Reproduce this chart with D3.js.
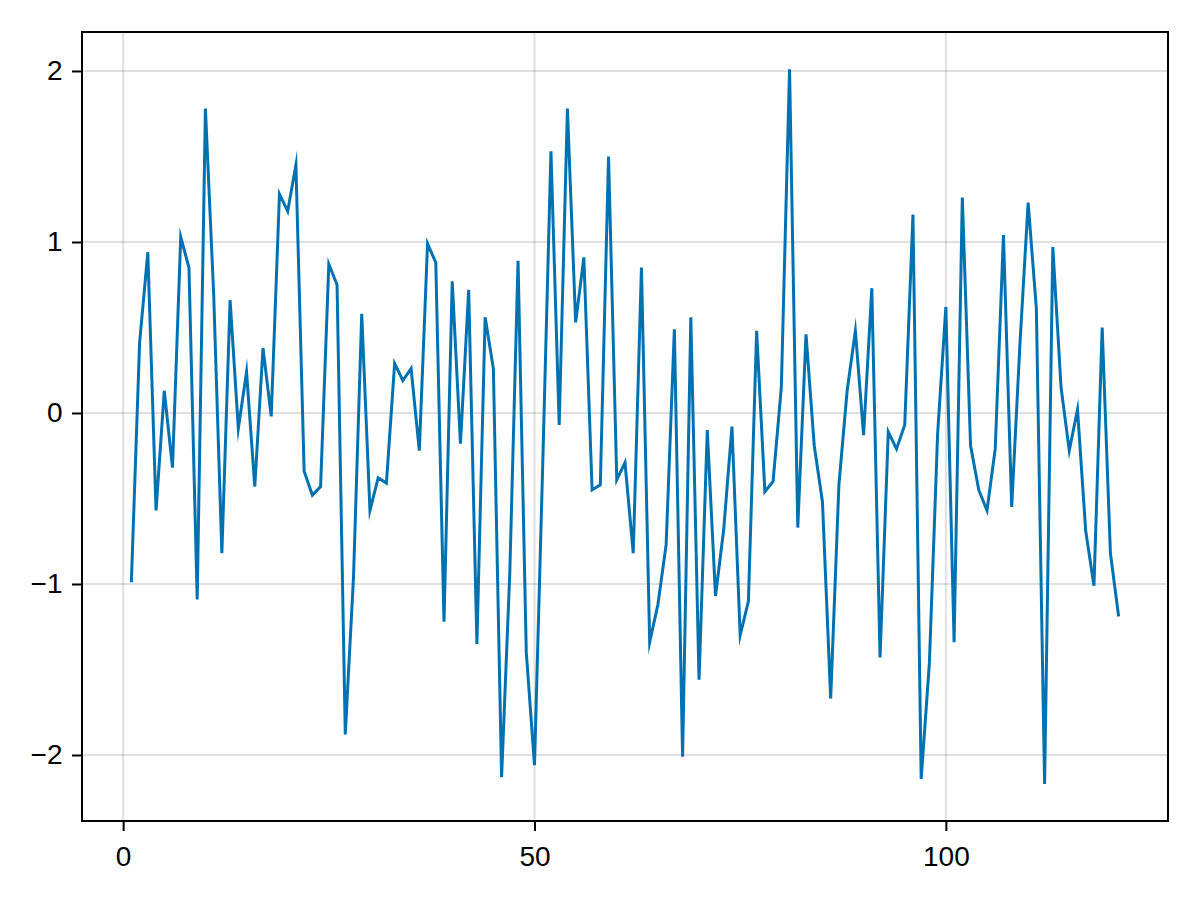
<!DOCTYPE html>
<html>
<head>
<meta charset="utf-8">
<script src="https://cdn.jsdelivr.net/npm/d3@7"></script>
<style>
  html, body { margin: 0; padding: 0; background: #ffffff; }
  svg { display: block; }
  text { font-family: "Liberation Sans", Arial, Helvetica, sans-serif; }
</style>
</head>
<body>
<svg id="chart" width="1200" height="900"></svg>
<script>
// ---- data ----
const xValues = d3.range(1, 122);
const yValues = [
  -0.99, 0.41, 0.94, -0.57, 0.13, -0.32, 1.03, 0.85, -1.09, 1.78,
  0.70, -0.82, 0.66, -0.09, 0.24, -0.43, 0.38, -0.02, 1.28, 1.18,
  1.45, -0.34, -0.48, -0.43, 0.87, 0.75, -1.88, -0.96, 0.58, -0.57,
  -0.38, -0.41, 0.29, 0.19, 0.26, -0.22, 0.99, 0.88, -1.22, 0.77,
  -0.18, 0.72, -1.35, 0.56, 0.26, -2.13, -0.93, 0.89, -1.40, -2.06,
  -0.30, 1.53, -0.07, 1.78, 0.53, 0.91, -0.45, -0.42, 1.50, -0.39,
  -0.29, -0.82, 0.85, -1.34, -1.12, -0.77, 0.49, -2.01, 0.56, -1.56,
  -0.10, -1.07, -0.68, -0.08, -1.30, -1.10, 0.48, -0.46, -0.40, 0.15,
  2.01, -0.67, 0.46, -0.19, -0.52, -1.67, -0.42, 0.13, 0.48, -0.13,
  0.73, -1.43, -0.11, -0.21, -0.07, 1.16, -2.14, -1.46, -0.12, 0.62,
  -1.34, 1.26, -0.19, -0.45, -0.57, -0.21, 1.04, -0.55, 0.40, 1.23,
  0.61, -2.17, 0.97, 0.15, -0.22, 0.02, -0.69, -1.01, 0.50, -0.82,
  -1.19
];
const xTicks = [0, 50, 100];
const yTicks = [-2, -1, 0, 1, 2];

// ---- layout ----
const svg = d3.select("#chart");
const mLeft = 82, mRight = 1168, mTop = 32, mBottom = 821;

const x = d3.scaleLinear().domain([-5, 127]).range([mLeft, mRight]);
const y = d3.scaleLinear().domain([-2.386, 2.228]).range([mBottom, mTop]);

const fmt = d => (d < 0 ? "\u2212" + Math.abs(d) : String(d));

// grid lines
const grid = svg.append("g");
grid.selectAll("line.gx").data(xTicks).enter().append("line")
  .attr("class", "gx")
  .attr("x1", d => x(d)).attr("x2", d => x(d))
  .attr("y1", mTop).attr("y2", mBottom)
  .attr("stroke", "rgba(0,0,0,0.12)").attr("stroke-width", 2);
grid.selectAll("line.gy").data(yTicks).enter().append("line")
  .attr("class", "gy")
  .attr("x1", mLeft).attr("x2", mRight)
  .attr("y1", d => y(d)).attr("y2", d => y(d))
  .attr("stroke", "rgba(0,0,0,0.12)").attr("stroke-width", 2);

// line series
const line = d3.line().x((d, i) => x(xValues[i])).y(d => y(d));
svg.append("path")
  .datum(yValues)
  .attr("d", line)
  .attr("fill", "none")
  .attr("stroke", "#0072B2")
  .attr("stroke-width", 3)
  .attr("stroke-linejoin", "miter")
  .attr("stroke-miterlimit", 10);

// axes
const xAxis = d3.axisBottom(x).tickValues(xTicks).tickFormat(fmt).tickSize(10).tickPadding(15);
const yAxis = d3.axisLeft(y).tickValues(yTicks).tickFormat(fmt).tickSize(10).tickPadding(9.5);

const gx = svg.append("g").attr("transform", `translate(0,${mBottom})`).call(xAxis);
const gy = svg.append("g").attr("transform", `translate(${mLeft},0)`).call(yAxis);
[gx, gy].forEach(g => {
  g.select(".domain").remove();
  g.selectAll(".tick line").attr("stroke", "#000").attr("stroke-width", 2);
  g.selectAll(".tick text").attr("fill", "#000").attr("font-size", 28)
    .attr("font-family", "'Liberation Sans', Arial, Helvetica, sans-serif");
});

// frame
svg.append("rect")
  .attr("x", mLeft).attr("y", mTop)
  .attr("width", mRight - mLeft).attr("height", mBottom - mTop)
  .attr("fill", "none").attr("stroke", "#000").attr("stroke-width", 2);
</script>
</body>
</html>
